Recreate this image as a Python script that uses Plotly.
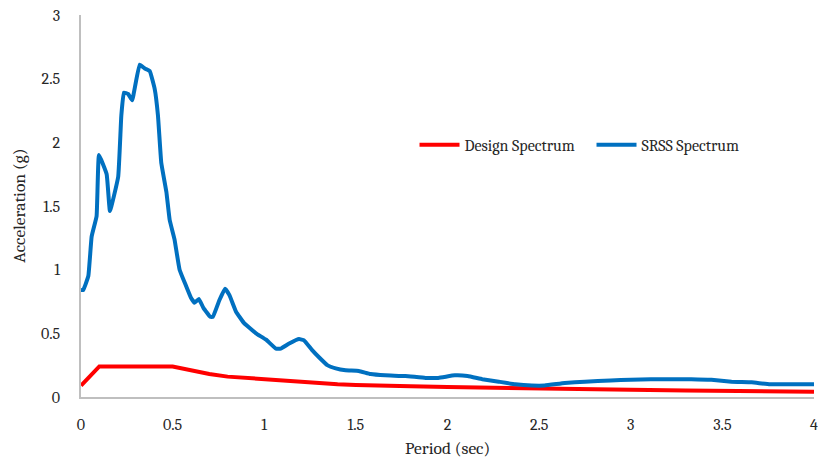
import plotly.graph_objects as go

# Period (sec) and spectral acceleration (g) for the SRSS spectrum
srss_period = [0.0, 0.012, 0.04, 0.058, 0.085, 0.098, 0.14, 0.158, 0.203, 0.22, 0.234,
               0.257, 0.279, 0.32, 0.348, 0.375, 0.402, 0.42, 0.438, 0.466, 0.484,
               0.51, 0.538, 0.574, 0.60, 0.62, 0.643, 0.668, 0.705, 0.72, 0.755,
               0.786, 0.81, 0.846, 0.89, 0.955, 1.01, 1.064, 1.09, 1.136, 1.19,
               1.217, 1.26, 1.30, 1.344, 1.39, 1.444, 1.516, 1.58, 1.66, 1.77,
               1.88, 1.95, 2.04, 2.11, 2.19, 2.28, 2.37, 2.46, 2.53, 2.64, 2.75,
               2.89, 3.0, 3.11, 3.33, 3.44, 3.55, 3.66, 3.76, 4.0]
srss_accel = [0.84, 0.84, 0.95, 1.26, 1.42, 1.90, 1.75, 1.46, 1.73, 2.21, 2.39,
              2.38, 2.33, 2.61, 2.58, 2.56, 2.42, 2.21, 1.84, 1.61, 1.39,
              1.24, 1.00, 0.87, 0.78, 0.74, 0.77, 0.70, 0.63, 0.63, 0.76,
              0.85, 0.80, 0.67, 0.58, 0.50, 0.45, 0.38, 0.38, 0.42, 0.455,
              0.445, 0.37, 0.31, 0.25, 0.225, 0.21, 0.205, 0.18, 0.17, 0.165,
              0.15, 0.15, 0.17, 0.165, 0.14, 0.12, 0.10, 0.09, 0.09, 0.11, 0.12,
              0.13, 0.135, 0.14, 0.14, 0.135, 0.12, 0.115, 0.10, 0.10]

# Design spectrum
design_period = [0.0, 0.1, 0.5, 0.6, 0.7, 0.8, 0.9, 1.0, 1.1, 1.2, 1.3, 1.4, 1.5,
                 1.6, 1.8, 2.0, 2.2, 2.5, 2.8, 3.0, 3.3, 3.6, 4.0]
design_accel = [0.09, 0.24, 0.24, 0.21, 0.18, 0.16, 0.15, 0.135, 0.125, 0.115, 0.11,
                0.10, 0.095, 0.09, 0.085, 0.078, 0.072, 0.065, 0.06, 0.056, 0.052,
                0.048, 0.042]

x_ticks = [0, 0.5, 1, 1.5, 2, 2.5, 3, 3.5, 4]
x_tick_text = ["0", "0.5", "1", "1.5", "2", "2.5", "3", "3.5", "4"]
y_ticks = [0, 0.5, 1, 1.5, 2, 2.5, 3]
y_tick_text = ["0", "0.5", "1", "1.5", "2", "2.5", "3"]

FONT = "Cambria, 'Liberation Serif', 'DejaVu Serif', serif"
TEXT = "#262626"

fig = go.Figure()
fig.add_trace(go.Scatter(x=design_period, y=design_accel, mode="lines",
                         name="Design Spectrum",
                         line=dict(color="#FF0000", width=4)))
fig.add_trace(go.Scatter(x=srss_period, y=srss_accel, mode="lines",
                         name="SRSS Spectrum",
                         line=dict(color="#0070C0", width=4, shape="spline",
                                   smoothing=0.3)))

fig.update_layout(
    width=818, height=459,
    margin=dict(l=81, r=0, t=15, b=62),
    paper_bgcolor="white", plot_bgcolor="white",
    font=dict(family=FONT, size=16, color=TEXT),
    showlegend=True,
    legend=dict(orientation="h", x=0.455, y=0.66, xanchor="left", yanchor="middle",
                font=dict(family=FONT, size=16, color=TEXT),
                bgcolor="rgba(0,0,0,0)", itemwidth=40, tracegroupgap=0,
                entrywidth=122),
    xaxis=dict(range=[0, 4], tickvals=x_ticks, ticktext=x_tick_text,
               showgrid=False, zeroline=False, showline=True,
               linecolor="#BFBFBF", linewidth=1.5, ticks="",
               ticklabelstandoff=12, ticklabeloverflow="allow"),
    yaxis=dict(range=[0, 3], tickvals=y_ticks, ticktext=y_tick_text,
               showgrid=False, zeroline=False, showline=True,
               linecolor="#BFBFBF", linewidth=1.5, ticks="",
               ticklabelstandoff=16),
    annotations=[
        dict(text="Period (sec)", x=0.5, y=-0.103, xref="paper", yref="paper",
             xanchor="center", yanchor="top", showarrow=False,
             font=dict(family=FONT, size=17.5, color=TEXT)),
        dict(text="Acceleration (g)", x=-0.085, y=0.5, xref="paper", yref="paper",
             xanchor="center", yanchor="middle", textangle=-90, showarrow=False,
             font=dict(family=FONT, size=17.5, color=TEXT)),
    ],
)

fig.write_html("out.html")
